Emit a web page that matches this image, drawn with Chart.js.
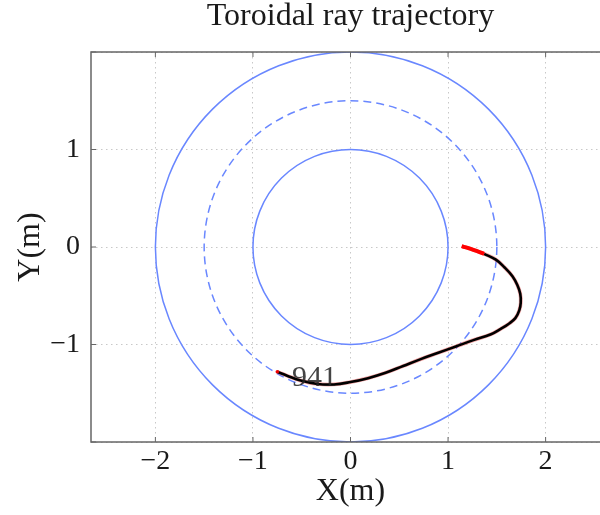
<!DOCTYPE html>
<html>
<head>
<meta charset="utf-8">
<script src="https://cdn.jsdelivr.net/npm/chart.js@4.4.1/dist/chart.umd.min.js"></script>
<style>
html,body{margin:0;padding:0;background:#fff;overflow:hidden;width:600px;height:515px;}
canvas{display:block;}
</style>
</head>
<body>
<canvas id="c" width="620" height="515"></canvas>
<script>
// ---- data ----
const titleText = "Toroidal ray trajectory";
const xTitle = "X(m)";
const yTitle = "Y(m)";
const xRange = [-2.66, 2.66];
const yRange = [-2, 2];
const circleRadii = [1, 1.5, 2];
const circleDashed = [false, true, false];
// trajectory
const trajX = [1.14, 1.26, 1.37, 1.49, 1.58, 1.66, 1.71, 1.74, 1.745, 1.73, 1.69, 1.62, 1.54, 1.44, 1.26, 1.08, 0.90, 0.72, 0.54, 0.36, 0.18, 0.00, -0.17, -0.34, -0.51, -0.65, -0.75];
const trajY = [0.01, -0.03, -0.07, -0.13, -0.21, -0.30, -0.39, -0.48, -0.57, -0.65, -0.73, -0.79, -0.84, -0.895, -0.955, -1.02, -1.085, -1.15, -1.22, -1.29, -1.345, -1.385, -1.41, -1.405, -1.37, -1.32, -1.28];
const redStartCount = 3;
const rayLabel = "941";
const rayLabelPos = [-0.37, -1.34];

const pts = trajX.map((x, i) => ({x: x, y: trajY[i]}));
const startPts = pts.slice(0, redStartCount);
const restPts = pts.slice(redStartCount - 1);
const endPt = [pts[pts.length - 1]];

const fmt = v => (v < 0 ? '\u2212' + Math.abs(v) : String(v));
const serif = "'Liberation Serif', 'DejaVu Serif', serif";

const decor = {
  id: 'decor',
  beforeDatasetsDraw(chart) {
    const {ctx, chartArea: a, scales: {x, y}} = chart;
    ctx.save();
    ctx.beginPath();
    ctx.rect(a.left, a.top, a.right - a.left, a.bottom - a.top);
    ctx.clip();
    const cx = x.getPixelForValue(0), cy = y.getPixelForValue(0);
    circleRadii.forEach((r, i) => {
      const rx = Math.abs(x.getPixelForValue(r) - cx);
      const ry = Math.abs(y.getPixelForValue(r) - cy);
      ctx.beginPath();
      ctx.ellipse(cx, cy, rx, ry, 0, 0, Math.PI * 2);
      ctx.strokeStyle = 'rgb(105,135,255)';
      ctx.lineWidth = 1.5;
      ctx.setLineDash(circleDashed[i] ? [8, 5] : []);
      ctx.stroke();
    });
    ctx.restore();
  },
  afterDatasetsDraw(chart) {
    const {ctx, chartArea: a, scales: {x, y}} = chart;
    ctx.save();
    // label
    ctx.font = "30px " + serif;
    ctx.fillStyle = 'rgba(35,35,35,0.85)';
    ctx.textAlign = 'center';
    ctx.textBaseline = 'middle';
    ctx.fillText(rayLabel, x.getPixelForValue(rayLabelPos[0]), y.getPixelForValue(rayLabelPos[1]));
    // frame
    ctx.strokeStyle = '#666';
    ctx.lineWidth = 1.5;
    ctx.setLineDash([]);
    ctx.strokeRect(a.left, a.top, a.right - a.left, a.bottom - a.top);
    // inner ticks
    ctx.lineWidth = 1;
    ctx.beginPath();
    x.ticks.forEach(t => {
      const px = x.getPixelForValue(t.value);
      ctx.moveTo(px, a.top); ctx.lineTo(px, a.top + 5);
      ctx.moveTo(px, a.bottom); ctx.lineTo(px, a.bottom - 5);
    });
    y.ticks.forEach(t => {
      const py = y.getPixelForValue(t.value);
      ctx.moveTo(a.left, py); ctx.lineTo(a.left + 5, py);
      ctx.moveTo(a.right, py); ctx.lineTo(a.right - 5, py);
    });
    ctx.stroke();
    ctx.restore();
  }
};

new Chart(document.getElementById('c'), {
  type: 'scatter',
  data: {
    datasets: [
      {data: pts, order: 4, showLine: true, borderColor: 'rgba(235,90,90,0.55)', borderWidth: 3.8, pointRadius: 0, tension: 0.4},
      {data: restPts, order: 3, showLine: true, borderColor: '#000', borderWidth: 2.6, pointRadius: 0, tension: 0.4},
      {data: startPts, order: 2, showLine: true, borderColor: '#ff0000', borderWidth: 4, pointRadius: 0, tension: 0.4},
      {data: endPt, order: 1, showLine: false, pointRadius: 1.8, pointBackgroundColor: '#e00', pointBorderWidth: 0}
    ]
  },
  options: {
    responsive: false,
    animation: false,
    layout: {padding: {left: 0, right: 10, top: 0, bottom: 0}},
    plugins: {
      legend: {display: false},
      tooltip: {enabled: false},
      title: {
        display: true, text: titleText, color: '#1a1a1a', fullSize: false,
        font: {family: serif, size: 32, weight: 'normal', lineHeight: 1},
        padding: {top: 1, bottom: 19}
      }
    },
    scales: {
      x: {
        type: 'linear', min: xRange[0], max: xRange[1],
        afterFit(s) { s.height = 73; },
        ticks: {stepSize: 1, includeBounds: false, color: '#1a1a1a', padding: 3,
          font: {family: serif, size: 28}, callback: v => fmt(v), maxRotation: 0},
        grid: {color: '#c8c8c8', drawTicks: false, tickLength: 0, lineWidth: 1},
        border: {display: false, dash: [1.5, 3.5]},
        title: {display: true, text: xTitle, color: '#1a1a1a',
          font: {family: serif, size: 32}, padding: {top: 0, bottom: 4}}
      },
      y: {
        type: 'linear', min: yRange[0], max: yRange[1],
        afterFit(s) { s.width = 91; },
        ticks: {stepSize: 1, color: '#1a1a1a', padding: 11,
          font: {family: serif, size: 28}, callback: v => (Math.abs(v) >= 2 ? '' : fmt(v))},
        grid: {color: '#c8c8c8', drawTicks: false, tickLength: 0, lineWidth: 1},
        border: {display: false, dash: [1.5, 3.5]},
        title: {display: true, text: yTitle, color: '#1a1a1a',
          font: {family: serif, size: 32}, padding: {top: 11, bottom: 0}}
      }
    }
  },
  plugins: [decor]
});
</script>
</body>
</html>
